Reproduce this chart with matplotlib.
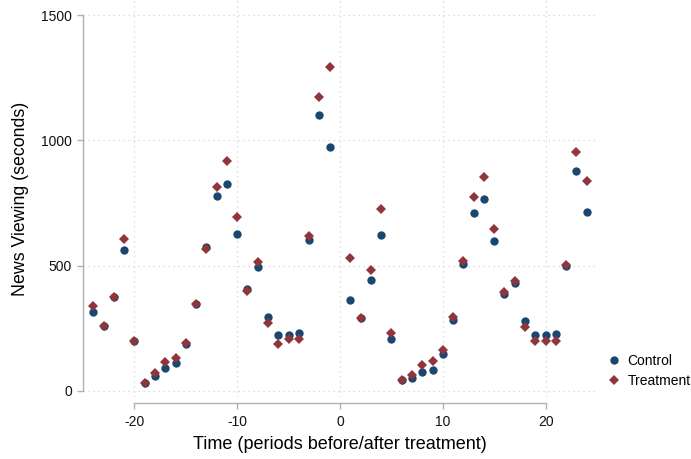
import numpy as np
import matplotlib.pyplot as plt

plt.rcParams['font.family'] = ['Liberation Sans', 'DejaVu Sans']
plt.rcParams['axes.unicode_minus'] = False

# periods relative to treatment (no period 0)
periods = [-24, -23, -22, -21, -20, -19, -18, -17, -16, -15, -14, -13, -12,
           -11, -10, -9, -8, -7, -6, -5, -4, -3, -2, -1,
           1, 2, 3, 4, 5, 6, 7, 8, 9, 10, 11, 12, 13, 14, 15, 16, 17, 18,
           19, 20, 21, 22, 23, 24]
control = [316, 261, 376, 562, 198, 33, 60, 90, 110, 186, 348, 576, 779,
           826, 625, 405, 495, 294, 223, 225, 233, 601, 1101, 972,
           363, 291, 443, 622, 209, 43, 52, 76, 85, 149, 282, 508, 711, 767,
           597, 387, 430, 279, 222, 222, 227, 500, 879, 715]
treatment = [339, 261, 376, 608, 198, 33, 70, 116, 133, 193, 348, 568, 815,
             919, 695, 399, 513, 270, 187, 206, 206, 620, 1172, 1291,
             531, 291, 483, 728, 231, 43, 65, 104, 120, 165, 294, 519, 774, 855,
             645, 396, 437, 254, 198, 200, 198, 504, 955, 839]
xticks = [-20, -10, 0, 10, 20]
yticks = [0, 500, 1000, 1500]

navy = '#1a476f'
maroon = '#90353b'
axis_gray = '#b0b0b0'

fig = plt.figure(figsize=(6.91, 4.59), dpi=100)
ax = fig.add_axes([83 / 691, 1 - 397 / 459, 514 / 691, 397 / 459])

ax.plot(periods, control, 'o', color=navy, markersize=6.0, mew=0, label='Control')
ax.plot(periods, treatment, 'D', color=maroon, markersize=5.4, mew=0, label='Treatment')

ax.set_xlim(-25, 25)
ax.set_ylim(-24, 1560)
ax.set_xticks(xticks)
ax.set_yticks(yticks)
ax.grid(True, color='#d4d4d4', linestyle=(0, (1, 3)), linewidth=0.9)
ax.set_axisbelow(True)

for s in ['top', 'right']:
    ax.spines[s].set_visible(False)
ax.spines['left'].set_bounds(0, 1500)
ax.spines['bottom'].set_bounds(-20, 20)
ax.spines['bottom'].set_position(('outward', 4))
for s in ['left', 'bottom']:
    ax.spines[s].set_color(axis_gray)
    ax.spines[s].set_linewidth(1.0)
ax.tick_params(axis='both', length=4.3, width=1.0, color=axis_gray,
               labelsize=10, labelcolor='#111111', pad=3.5)
ax.tick_params(axis='x', pad=5)

ax.set_xlabel('Time (periods before/after treatment)', fontsize=13, labelpad=5)
ax.set_ylabel('News Viewing (seconds)', fontsize=12.8, labelpad=9)

ax.legend(loc='center left', bbox_to_anchor=(607 / 691, 1 - 371 / 459),
          bbox_transform=fig.transFigure, frameon=False, fontsize=10,
          borderpad=0, borderaxespad=0, handlelength=1.0, handletextpad=0.46,
          labelspacing=0.45)

fig.savefig('out.png', dpi=100)
